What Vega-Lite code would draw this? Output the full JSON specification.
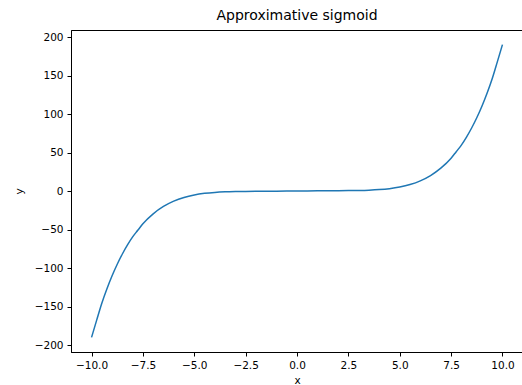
{
  "$schema": "https://vega.github.io/schema/vega-lite/v6.json",
  "width": 452,
  "height": 322,
  "autosize": "none",
  "padding": {"left": 71, "top": 30, "right": 0, "bottom": 33},
  "background": "white",
  "config": {
    "font": "DejaVu Sans",
    "view": {"stroke": "black", "strokeWidth": 1},
    "axis": {
      "domainColor": "black", "tickColor": "black", "labelColor": "black", "titleColor": "black",
      "labelFont": "DejaVu Sans", "titleFont": "DejaVu Sans", "labelFontSize": 10.5, "titleFontSize": 10.5,
      "titleFontWeight": "normal", "grid": false, "tickSize": 4, "labelPadding": 4
    }
  },
  "title": {"text": "Approximative sigmoid", "font": "DejaVu Sans", "fontSize": 14, "fontWeight": "normal", "color": "black", "offset": 7},
  "data": {"values": [
    {"x": -10, "y": -189.5},
    {"x": -9.75, "y": -167.155},
    {"x": -9.5, "y": -145.2174},
    {"x": -9.25, "y": -126.4245},
    {"x": -9, "y": -109.5813},
    {"x": -8.75, "y": -94.5868},
    {"x": -8.5, "y": -81.2693},
    {"x": -8.25, "y": -69.4854},
    {"x": -8, "y": -59.1},
    {"x": -7.75, "y": -50.5316},
    {"x": -7.5, "y": -42.0244},
    {"x": -7, "y": -29.1188},
    {"x": -6.5, "y": -19.5764},
    {"x": -6, "y": -12.7},
    {"x": -5.5, "y": -7.8939},
    {"x": -5, "y": -4.6563},
    {"x": -4.5, "y": -2.5709},
    {"x": -4, "y": -1.3},
    {"x": -3.5, "y": -0.576},
    {"x": -3, "y": -0.1938},
    {"x": -2.5, "y": -0.0029},
    {"x": -2, "y": 0.1},
    {"x": -1.5, "y": 0.1795},
    {"x": -1, "y": 0.2688},
    {"x": -0.5, "y": 0.3775},
    {"x": 0, "y": 0.5},
    {"x": 0.5, "y": 0.6225},
    {"x": 1, "y": 0.7313},
    {"x": 1.5, "y": 0.8205},
    {"x": 2, "y": 0.9},
    {"x": 2.5, "y": 1.0029},
    {"x": 3, "y": 1.1938},
    {"x": 3.5, "y": 1.576},
    {"x": 4, "y": 2.3},
    {"x": 4.5, "y": 3.5709},
    {"x": 5, "y": 5.6563},
    {"x": 5.5, "y": 8.8939},
    {"x": 6, "y": 13.7},
    {"x": 6.5, "y": 20.5764},
    {"x": 7, "y": 30.1188},
    {"x": 7.5, "y": 43.0244},
    {"x": 7.75, "y": 51.5316},
    {"x": 8, "y": 60.1},
    {"x": 8.25, "y": 70.4854},
    {"x": 8.5, "y": 82.2693},
    {"x": 8.75, "y": 95.5868},
    {"x": 9, "y": 110.5813},
    {"x": 9.25, "y": 127.4245},
    {"x": 9.5, "y": 146.2174},
    {"x": 9.75, "y": 168.155},
    {"x": 10, "y": 190.5}
  ]},
  "mark": {"type": "line", "color": "#1f77b4", "strokeWidth": 1.5, "interpolate": "monotone"},
  "encoding": {
    "x": {"field": "x", "type": "quantitative", "title": "x",
      "scale": {"domain": [-11, 11], "nice": false, "zero": false},
      "axis": {"values": [-10, -7.5, -5, -2.5, 0, 2.5, 5, 7.5, 10], "format": ".1f", "labelExpr": "replace(datum.label, '-', '\u2212')", "titlePadding": 5}},
    "y": {"field": "y", "type": "quantitative", "title": "y",
      "scale": {"domain": [-208.5, 209.5], "nice": false, "zero": false},
      "axis": {"values": [-200, -150, -100, -50, 0, 50, 100, 150, 200], "labelExpr": "replace(datum.label, '-', '\u2212')", "titlePadding": 10}}
  }
}
